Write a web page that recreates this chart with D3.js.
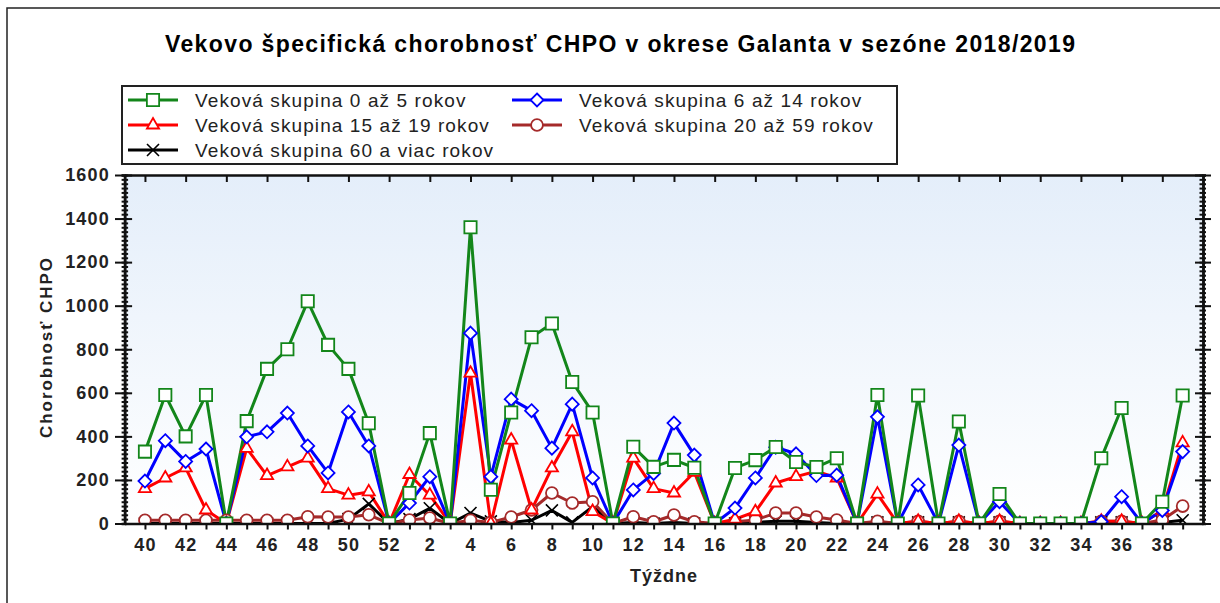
<!DOCTYPE html>
<html>
<head>
<meta charset="utf-8">
<script src="https://cdn.jsdelivr.net/npm/d3@7"></script>
<style>
    body { margin: 0; background: #fff; }
    svg { display: block; font-family: "Liberation Sans", Arial, sans-serif; }
</style>
</head>
<body>
<svg id="chart" width="1220" height="603"></svg>
<script>
'use strict';

// weeks of the season 2018/2019
const weeks = [40, 41, 42, 43, 44, 45, 46, 47, 48, 49, 50, 51, 52,
    1, 2, 3, 4, 5, 6, 7, 8, 9, 10, 11, 12, 13, 14, 15, 16, 17, 18, 19, 20,
    21, 22, 23, 24, 25, 26, 27, 28, 29, 30, 31, 32, 33, 34, 35, 36, 37, 38, 39];

const age0to5 = [330, 590, 400, 590, 0, 470, 710, 800, 1020, 820, 710, 460, 0,
    140, 415, 0, 1360, 155, 510, 855, 918, 650, 510, 0, 352, 260, 292, 256, 0,
    255, 291, 351, 282, 259, 300, 0, 590, 0, 588, 0, 468, 0, 135, 0, 0, 0, 0,
    300, 530, 0, 100, 588];

const age6to14 = [195, 380, 285, 342, 0, 398, 421, 507, 356, 232, 512, 356, 0,
    94, 215, 0, 874, 215, 571, 518, 346, 548, 209, 0, 154, 230, 461, 314, 0,
    71, 209, 350, 320, 220, 222, 0, 490, 0, 177, 0, 360, 0, 100, 0, 0, 0, 0,
    8, 123, 0, 60, 330];

const age15to19 = [160, 209, 255, 62, 0, 345, 220, 260, 300, 160, 130, 145, 0,
    225, 130, 0, 690, 0, 383, 62, 255, 421, 55, 0, 300, 160, 140, 235, 0,
    20, 54, 186, 215, 240, 209, 0, 135, 0, 10, 0, 10, 0, 10, 0, 0, 0, 0,
    10, 10, 0, 60, 370];

const age20to59 = [15, 15, 15, 15, 15, 15, 15, 15, 31, 30, 30, 40, 0,
    16, 25, 0, 15, 5, 30, 62, 140, 94, 100, 0, 31, 8, 39, 8, 0,
    8, 16, 48, 48, 30, 16, 0, 10, 0, 10, 0, 10, 0, 10, 0, 0, 0, 0,
    10, 10, 0, 16, 80];

const age60plus = [0, 0, 0, 0, 0, 0, 0, 0, 0, 0, 20, 90, 0,
    20, 70, 0, 48, 10, 5, 15, 60, 5, 77, 0, 5, 0, 5, 0, 0,
    0, 5, 10, 10, 5, 0, 0, 5, 0, 5, 0, 5, 0, 5, 0, 0, 0, 0,
    5, 5, 0, 5, 15];

const yTicks = [0, 200, 400, 600, 800, 1000, 1200, 1400, 1600];

const TITLE = 'Vekovo špecifická chorobnosť CHPO v okrese Galanta v sezóne 2018/2019';
const Y_TITLE = 'Chorobnosť CHPO';
const X_TITLE = 'Týždne';

const series = [
    {name: 'Veková skupina 0 až 5 rokov', values: age0to5, color: '#13861a', marker: 'square', col: 0, row: 0},
    {name: 'Veková skupina 6 až 14 rokov', values: age6to14, color: '#0000ff', marker: 'diamond', col: 1, row: 0},
    {name: 'Veková skupina 15 až 19 rokov', values: age15to19, color: '#ff0000', marker: 'triangle', col: 0, row: 1},
    {name: 'Veková skupina 20 až 59 rokov', values: age20to59, color: '#a52a2a', marker: 'circle', col: 1, row: 1},
    {name: 'Veková skupina 60 a viac rokov', values: age60plus, color: '#000000', marker: 'cross', col: 0, row: 2}
];

const PLOT_LEFT = 124.6;
const PLOT_RIGHT = 1203;
const PLOT_TOP = 175;
const PLOT_BOTTOM = 523.5;

const svg = d3.select('#chart');

// outer frame
svg.append('rect')
    .attr('x', 7).attr('y', 8)
    .attr('width', 1240).attr('height', 620)
    .attr('fill', 'none')
    .attr('stroke', '#222')
    .attr('stroke-width', 1.5);

svg.append('text')
    .attr('x', 620).attr('y', 52)
    .attr('text-anchor', 'middle')
    .attr('font-size', 23)
    .attr('font-weight', 'bold')
    .attr('textLength', 910)
    .attr('lengthAdjust', 'spacing')
    .text(TITLE);

const x = d3.scaleLinear()
    .domain([-1, weeks.length])
    .range([PLOT_LEFT, PLOT_RIGHT]);

const y = d3.scaleLinear()
    .domain([0, 1600])
    .range([PLOT_BOTTOM, PLOT_TOP]);

// plot background
const grad = svg.append('defs').append('linearGradient')
    .attr('id', 'bg')
    .attr('x1', 0).attr('y1', 0).attr('x2', 0).attr('y2', 1);
grad.append('stop').attr('offset', '0%').attr('stop-color', '#e4eefa');
grad.append('stop').attr('offset', '100%').attr('stop-color', '#ffffff');

svg.select('defs').append('clipPath')
    .attr('id', 'clip')
    .append('rect')
    .attr('x', PLOT_LEFT).attr('y', PLOT_TOP)
    .attr('width', PLOT_RIGHT - PLOT_LEFT)
    .attr('height', PLOT_BOTTOM - PLOT_TOP);

svg.append('rect')
    .attr('x', PLOT_LEFT).attr('y', PLOT_TOP)
    .attr('width', PLOT_RIGHT - PLOT_LEFT)
    .attr('height', PLOT_BOTTOM - PLOT_TOP)
    .attr('fill', 'url(#bg)');

function markerPath(type) {
    if (type === 'square') return d3.symbol(d3.symbolSquare, 150)();
    if (type === 'diamond') return 'M0,-6.5L6.5,0L0,6.5L-6.5,0Z';
    if (type === 'triangle') return d3.symbol(d3.symbolTriangle, 64)();
    if (type === 'circle') return d3.symbol(d3.symbolCircle, 110)();
    return 'M-6,-6L6,6M-6,6L6,-6';
}

function drawMarkers(g, s, points) {
    g.selectAll('path.m')
        .data(points)
        .enter()
        .append('path')
        .attr('class', 'm')
        .attr('d', markerPath(s.marker))
        .attr('transform', (d) => 'translate(' + d[0] + ',' + d[1] + ')')
        .attr('fill', s.marker === 'cross' ? 'none' : '#fff')
        .attr('stroke', s.color)
        .attr('stroke-width', s.marker === 'cross' ? 1.6 : 1.8);
}

const plot = svg.append('g').attr('clip-path', 'url(#clip)');
const line = d3.line()
    .x((d, i) => x(i))
    .y((d) => y(d));

const drawOrder = series.slice().reverse();

drawOrder.forEach((s) => {
    plot.append('path')
        .datum(s.values)
        .attr('d', line)
        .attr('fill', 'none')
        .attr('stroke', s.color)
        .attr('stroke-width', 3)
        .attr('stroke-linejoin', 'round');
});

drawOrder.forEach((s) => {
    drawMarkers(plot.append('g'), s, s.values.map((v, i) => [x(i), y(v)]));
});

// axes
const minorTicks = d3.range(0, 1601, 20);

function styleAxis(g) {
    g.select('.domain').attr('stroke', '#111').attr('stroke-width', 2.5);
    g.selectAll('.tick line').attr('stroke', '#111').attr('stroke-width', 2);
    g.selectAll('.tick text')
        .attr('fill', '#222')
        .attr('font-size', 18)
        .attr('font-weight', 'bold')
        .attr('letter-spacing', '1.2px')
        .attr('font-family', '"Liberation Sans", Arial, sans-serif');
}

// left
const gLeftMinor = svg.append('g')
    .attr('transform', 'translate(' + PLOT_LEFT + ',0)')
    .call(d3.axisLeft(y).tickValues(minorTicks).tickSize(3).tickFormat(''));
gLeftMinor.selectAll('.tick line').attr('x1', 3.5);
styleAxis(gLeftMinor);

const gLeft = svg.append('g')
    .attr('transform', 'translate(' + PLOT_LEFT + ',0)')
    .call(d3.axisLeft(y).tickValues(yTicks).tickFormat(d3.format('d'))
        .tickSize(9.6).tickPadding(5).tickSizeOuter(0));
gLeft.selectAll('.tick line').attr('x1', 7.5);
styleAxis(gLeft);

// right
const gRightMinor = svg.append('g')
    .attr('transform', 'translate(' + PLOT_RIGHT + ',0)')
    .call(d3.axisRight(y).tickValues(minorTicks).tickSize(3).tickFormat(''));
gRightMinor.selectAll('.tick line').attr('x1', -3.5);
styleAxis(gRightMinor);

const gRight = svg.append('g')
    .attr('transform', 'translate(' + PLOT_RIGHT + ',0)')
    .call(d3.axisRight(y).tickValues(yTicks).tickSize(8).tickFormat('').tickSizeOuter(0));
gRight.selectAll('.tick line').attr('x1', -8);
styleAxis(gRight);

// bottom
const gBottom = svg.append('g')
    .attr('transform', 'translate(0,' + PLOT_BOTTOM + ')')
    .call(d3.axisBottom(x)
        .tickValues(d3.range(weeks.length))
        .tickFormat((i) => (i % 2 === 0 ? weeks[i] : ''))
        .tickSize(6)
        .tickPadding(9)
        .tickSizeOuter(0));
styleAxis(gBottom);

// top
const gTop = svg.append('g')
    .attr('transform', 'translate(0,' + PLOT_TOP + ')')
    .call(d3.axisTop(x)
        .tickValues(d3.range(0, weeks.length, 2))
        .tickFormat('')
        .tickSize(-7)
        .tickSizeOuter(0));
styleAxis(gTop);

svg.append('text')
    .attr('transform', 'translate(52,348) rotate(-90)')
    .attr('text-anchor', 'middle')
    .attr('font-size', 17)
    .attr('font-weight', 'bold')
    .attr('fill', '#222')
    .attr('textLength', 180)
    .attr('lengthAdjust', 'spacing')
    .text(Y_TITLE);

svg.append('text')
    .attr('x', 664).attr('y', 582)
    .attr('text-anchor', 'middle')
    .attr('font-size', 18)
    .attr('font-weight', 'bold')
    .attr('fill', '#222')
    .attr('letter-spacing', '1px')
    .text(X_TITLE);

// legend
const legend = svg.append('g');
legend.append('rect')
    .attr('x', 122).attr('y', 86)
    .attr('width', 775).attr('height', 78)
    .attr('fill', '#fff')
    .attr('stroke', '#222')
    .attr('stroke-width', 2);

const LEG_COL = [128, 512];
const LEG_ROW = [100, 125, 150];

series.forEach((s) => {
    const lx = LEG_COL[s.col];
    const ly = LEG_ROW[s.row];
    const g = legend.append('g');
    g.append('line')
        .attr('x1', lx).attr('x2', lx + 50)
        .attr('y1', ly).attr('y2', ly)
        .attr('stroke', s.color)
        .attr('stroke-width', 3);
    drawMarkers(g, s, [[lx + 25, ly]]);
    g.append('text')
        .attr('x', lx + 67).attr('y', ly + 6.5)
        .attr('font-size', 19)
        .attr('letter-spacing', '1.1px')
        .attr('fill', '#222')
        .text(s.name);
});
</script>
</body>
</html>
